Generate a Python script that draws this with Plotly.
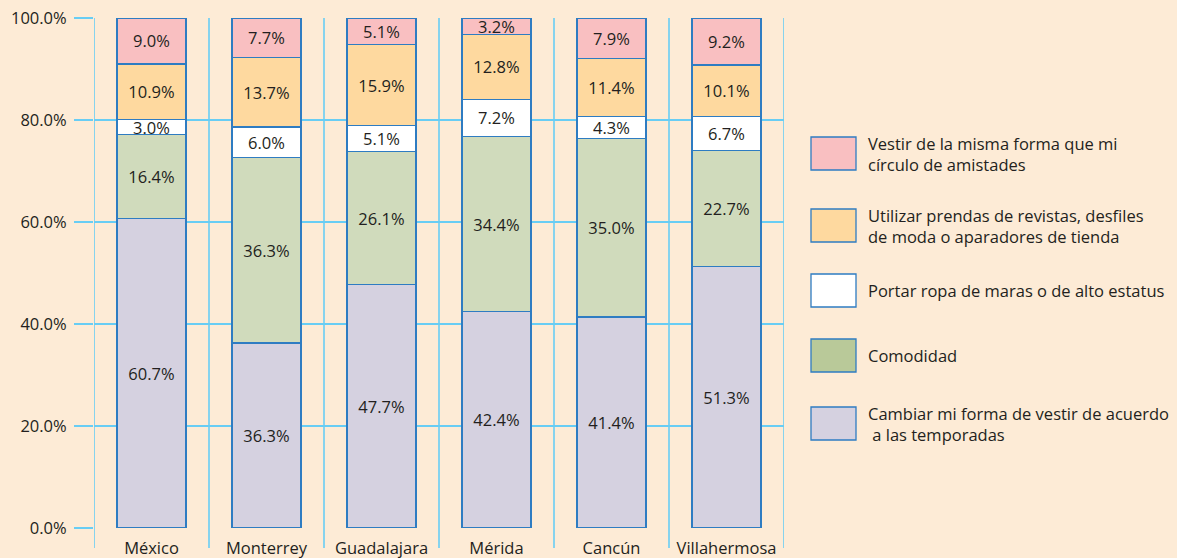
import plotly.graph_objects as go

# Survey results by city (percent of respondents)
cities = ["México", "Monterrey", "Guadalajara", "Mérida", "Cancún", "Villahermosa"]

cambiar = [60.7, 36.3, 47.7, 42.4, 41.4, 51.3]
comodidad = [16.4, 36.3, 26.1, 34.4, 35.0, 22.7]
portar = [3.0, 6.0, 5.1, 7.2, 4.3, 6.7]
utilizar = [10.9, 13.7, 15.9, 12.8, 11.4, 10.1]
vestir = [9.0, 7.7, 5.1, 3.2, 7.9, 9.2]

series_names = [
    "Cambiar mi forma de vestir de acuerdo<br> a las temporadas",
    "Comodidad",
    "Portar ropa de maras o de alto estatus",
    "Utilizar prendas de revistas, desfiles<br>de moda o aparadores de tienda",
    "Vestir de la misma forma que mi<br>círculo de amistades",
]
series_values = [cambiar, comodidad, portar, utilizar, vestir]
bar_colors = ["#d5d1e0", "#d0dbbc", "#ffffff", "#fed99f", "#f9bfc1"]
legend_colors = ["#d5d1e0", "#b9c999", "#ffffff", "#fed99f", "#f9bfc1"]

y_ticks = [0, 20, 40, 60, 80, 100]

W, H = 1177, 558
BG = "#fdebd6"
GRID = "#68cdf4"
EDGE = "#2e7cc2"
TXT = "#231f20"
FONT = "Open Sans"

# plot area in pixels
X0, X1 = 94, 784
Y_TOP, Y_BOT = 18, 528

fig = go.Figure()
for name, vals, col in zip(series_names, series_values, bar_colors):
    fig.add_trace(go.Bar(
        x=cities, y=vals, name=name,
        marker=dict(color=col, line=dict(color=EDGE, width=1.3)),
        width=0.6,
        text=[f"{v:.1f}%" for v in vals],
        textposition="inside", insidetextanchor="middle", textangle=0,
        textfont=dict(family=FONT, size=16.5, color=TXT),
        showlegend=False,
    ))

shapes = []
# vertical grid lines at category boundaries, reaching below the axis
for i in range(len(cities) + 1):
    shapes.append(dict(
        type="line", xref="x", yref="paper",
        x0=i - 0.5, x1=i - 0.5,
        y0=1 - 548 / H, y1=1 - Y_TOP / H,
        line=dict(color=GRID, width=1.6), layer="below",
    ))

# legend boxes and labels
box_tops = [137, 209, 274, 339, 407]
annotations = []
legend_order = list(range(len(series_names)))[::-1]
for k, idx in enumerate(legend_order):
    top = box_tops[k]
    shapes.append(dict(
        type="rect", xref="paper", yref="paper",
        x0=811 / W, x1=856 / W,
        y0=1 - (top + 33) / H, y1=1 - top / H,
        fillcolor=legend_colors[idx], line=dict(color=EDGE, width=1.3),
    ))
    annotations.append(dict(
        xref="paper", yref="paper", x=866 / W, y=1 - (top + 16.5) / H,
        text=series_names[idx], showarrow=False, xanchor="left", yanchor="middle",
        align="left", font=dict(family=FONT, size=16.5, color=TXT),
    ))

fig.update_layout(
    barmode="stack",
    width=W, height=H,
    margin=dict(l=0, r=0, t=0, b=0),
    paper_bgcolor=BG, plot_bgcolor=BG,
    bargap=0.4,
    uniformtext=dict(minsize=16, mode="show"),
    shapes=shapes,
    annotations=annotations,
    font=dict(family=FONT, color=TXT),
    xaxis=dict(
        domain=[X0 / W, X1 / W], range=[-0.5, len(cities) - 0.5],
        showgrid=False, zeroline=False, showline=False,
        ticks="", ticklabelstandoff=8,
        tickfont=dict(family=FONT, size=16.5, color=TXT),
        automargin=False,
    ),
    yaxis=dict(
        domain=[1 - Y_BOT / H, 1 - Y_TOP / H], range=[0, 100],
        tickvals=y_ticks, ticktext=[f"{v:.1f}%" for v in y_ticks],
        showgrid=True, gridcolor=GRID, gridwidth=1.6,
        zeroline=False, showline=False,
        ticks="outside", ticklen=19, tickcolor=GRID, tickwidth=1.6,
        ticklabelstandoff=4,
        tickfont=dict(family=FONT, size=16.5, color=TXT),
        automargin=False,
    ),
)

fig.write_html("out.html")
